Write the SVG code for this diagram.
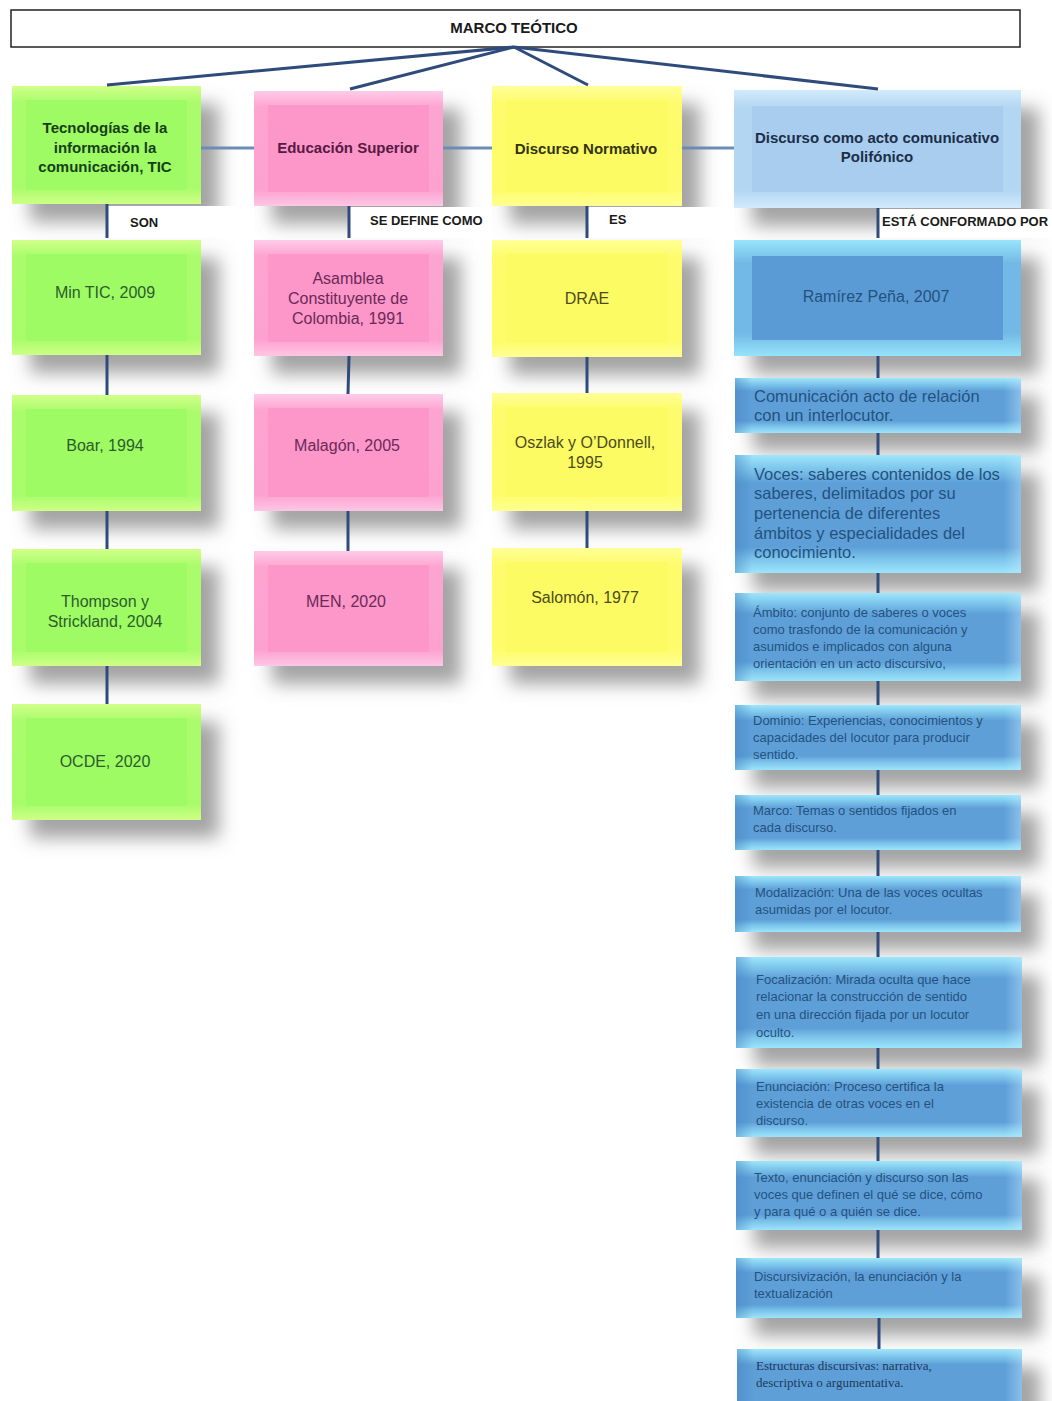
<svg xmlns="http://www.w3.org/2000/svg" width="1052" height="1401" viewBox="0 0 1052 1401">
<style>
text{font-family:"Liberation Sans",Arial,sans-serif}
.hd{font-weight:bold;font-size:15px;text-anchor:middle}
.bt{font-size:16px;text-anchor:middle}
.md{font-size:16.5px}
.sm{font-size:13px}
.sf{font-family:"Liberation Serif","Times New Roman",serif;font-size:13px}
.lb{font-weight:bold;font-size:13px;fill:#1a1a1a}
.sh{filter:url(#ds)}
.bb{fill:url(#gB2)}
.tg{fill:#2b5d2b}.thg{fill:#173f17}
.tp{fill:#6a2a58}.thp{fill:#561a44}
.ty{fill:#4c4c18}.thy{fill:#333310}
.tb{fill:#24527e}.thb{fill:#1c2d48}
.ln{stroke:#2f4b7c;stroke-width:3;fill:none}
.hl{stroke:#6b8db3;stroke-width:3;fill:none}
</style>
<defs>
<filter id="ds" x="-20%" y="-40%" width="160%" height="220%">
<feGaussianBlur in="SourceAlpha" stdDeviation="9"/>
<feOffset dx="18" dy="18" result="b"/>
<feFlood flood-color="#666" flood-opacity="0.6"/>
<feComposite in2="b" operator="in"/>
<feMerge><feMergeNode/><feMergeNode in="SourceGraphic"/></feMerge>
</filter>
<linearGradient id="gG" x1="0" y1="0" x2="0" y2="1"><stop offset="0" stop-color="#d2ff8a"/><stop offset="0.14" stop-color="#aafc6c"/><stop offset="0.86" stop-color="#a8fc6a"/><stop offset="1" stop-color="#ceff86"/></linearGradient>
<linearGradient id="gP" x1="0" y1="0" x2="0" y2="1"><stop offset="0" stop-color="#ffcbe8"/><stop offset="0.14" stop-color="#fda4d1"/><stop offset="0.86" stop-color="#fda2d0"/><stop offset="1" stop-color="#ffc6e5"/></linearGradient>
<linearGradient id="gY" x1="0" y1="0" x2="0" y2="1"><stop offset="0" stop-color="#ffff98"/><stop offset="0.14" stop-color="#fefc6c"/><stop offset="0.86" stop-color="#fefc6a"/><stop offset="1" stop-color="#ffff92"/></linearGradient>
<linearGradient id="gBH" x1="0" y1="0" x2="0" y2="1"><stop offset="0" stop-color="#d2eafc"/><stop offset="0.15" stop-color="#b3d7f3"/><stop offset="0.85" stop-color="#b3d7f3"/><stop offset="1" stop-color="#d2eafc"/></linearGradient>
<linearGradient id="gB" x1="0" y1="0" x2="0" y2="1"><stop offset="0" stop-color="#98e5fb"/><stop offset="0.2" stop-color="#72b9e6"/><stop offset="0.8" stop-color="#72b9e6"/><stop offset="1" stop-color="#96e3fb"/></linearGradient>
<linearGradient id="gB2" x1="0" y1="0" x2="0" y2="1"><stop offset="0" stop-color="#9de7fb"/><stop offset="0.12" stop-color="#7cc4eb"/><stop offset="0.24" stop-color="#5e9fd8"/><stop offset="0.78" stop-color="#5e9fd8"/><stop offset="0.88" stop-color="#7cc4eb"/><stop offset="1" stop-color="#9be5fb"/></linearGradient>
<linearGradient id="gSide" x1="0" y1="0" x2="1" y2="0"><stop offset="0" stop-color="#3f7fbf" stop-opacity="0.45"/><stop offset="0.06" stop-color="#3f7fbf" stop-opacity="0"/><stop offset="0.94" stop-color="#bfe8ff" stop-opacity="0"/><stop offset="1" stop-color="#bfe8ff" stop-opacity="0.45"/></linearGradient>
</defs>
<rect width="1052" height="1401" fill="#ffffff"/>

<g id="title">
<rect x="11" y="10" width="1009" height="37" fill="#ffffff" stroke="#222" stroke-width="1.5"/>
<text x="514" y="33" class="hd" style="fill:#1a1a1a">MARCO TEÓTICO</text>
</g>

<!-- Green column -->
<g id="n-tic">
<rect class="sh" x="12" y="86" width="189" height="118" fill="url(#gG)"/>
<rect x="26" y="100" width="161" height="90" fill="#9efb64"/>
<text class="hd thg" x="105" y="133">Tecnologías de la</text>
<text class="hd thg" x="105" y="153">información la</text>
<text class="hd thg" x="105" y="172">comunicación, TIC</text>
</g>
<g id="n-mintic">
<rect class="sh" x="12" y="240" width="189" height="115" fill="url(#gG)"/>
<rect x="26" y="254" width="161" height="87" fill="#9efb64"/>
<text class="bt tg" x="105" y="298">Min TIC, 2009</text>
</g>
<g id="n-boar">
<rect class="sh" x="12" y="395" width="189" height="116" fill="url(#gG)"/>
<rect x="26" y="409" width="161" height="88" fill="#9efb64"/>
<text class="bt tg" x="105" y="451">Boar, 1994</text>
</g>
<g id="n-thompson">
<rect class="sh" x="12" y="549" width="189" height="117" fill="url(#gG)"/>
<rect x="26" y="563" width="161" height="89" fill="#9efb64"/>
<text class="bt tg" x="105" y="607">Thompson y</text>
<text class="bt tg" x="105" y="627">Strickland, 2004</text>
</g>
<g id="n-ocde">
<rect class="sh" x="12" y="704" width="189" height="116" fill="url(#gG)"/>
<rect x="26" y="718" width="161" height="88" fill="#9efb64"/>
<text class="bt tg" x="105" y="767">OCDE, 2020</text>
</g>

<!-- Pink column -->
<g id="n-edu">
<rect class="sh" x="254" y="91" width="189" height="115" fill="url(#gP)"/>
<rect x="268" y="105" width="161" height="87" fill="#fd96c9"/>
<text class="hd thp" x="348" y="153">Educación Superior</text>
</g>
<g id="n-asamblea">
<rect class="sh" x="254" y="240" width="189" height="116" fill="url(#gP)"/>
<rect x="268" y="254" width="161" height="88" fill="#fd96c9"/>
<text class="bt tp" x="348" y="284">Asamblea</text>
<text class="bt tp" x="348" y="304">Constituyente de</text>
<text class="bt tp" x="348" y="324">Colombia, 1991</text>
</g>
<g id="n-malagon">
<rect class="sh" x="254" y="394" width="189" height="117" fill="url(#gP)"/>
<rect x="268" y="408" width="161" height="89" fill="#fd96c9"/>
<text class="bt tp" x="347" y="451">Malagón, 2005</text>
</g>
<g id="n-men">
<rect class="sh" x="254" y="551" width="189" height="115" fill="url(#gP)"/>
<rect x="268" y="565" width="161" height="87" fill="#fd96c9"/>
<text class="bt tp" x="346" y="607">MEN, 2020</text>
</g>

<!-- Yellow column -->
<g id="n-normativo">
<rect class="sh" x="492" y="86" width="190" height="120" fill="url(#gY)"/>
<rect x="506" y="100" width="162" height="92" fill="#fdfb64"/>
<text class="hd thy" x="586" y="154">Discurso Normativo</text>
</g>
<g id="n-drae">
<rect class="sh" x="492" y="240" width="190" height="117" fill="url(#gY)"/>
<rect x="506" y="254" width="162" height="89" fill="#fdfb64"/>
<text class="bt ty" x="587" y="304">DRAE</text>
</g>
<g id="n-oszlak">
<rect class="sh" x="492" y="393" width="190" height="118" fill="url(#gY)"/>
<rect x="506" y="407" width="162" height="90" fill="#fdfb64"/>
<text class="bt ty" x="585" y="448">Oszlak y O’Donnell,</text>
<text class="bt ty" x="585" y="468">1995</text>
</g>
<g id="n-salomon">
<rect class="sh" x="492" y="548" width="190" height="118" fill="url(#gY)"/>
<rect x="506" y="562" width="162" height="90" fill="#fdfb64"/>
<text class="bt ty" x="585" y="603">Salomón, 1977</text>
</g>

<!-- Blue column -->
<g id="n-polifonico">
<rect class="sh" x="734" y="90" width="287" height="118" fill="url(#gBH)"/>
<rect x="752" y="106" width="251" height="86" fill="#a9cdef"/>
<text class="hd thb" x="877" y="143">Discurso como acto comunicativo</text>
<text class="hd thb" x="877" y="162">Polifónico</text>
</g>
<g id="n-ramirez">
<rect class="sh" x="734" y="240" width="287" height="116" fill="url(#gB)"/>
<rect x="752" y="256" width="251" height="84" fill="#5b9bd5"/>
<text class="bt tb" x="876" y="302">Ramírez Peña, 2007</text>
</g>
<g id="n-comunicacion">
<rect class="sh bb" x="735" y="378" width="286" height="55"/>
<rect x="735" y="378" width="286" height="55" fill="url(#gSide)"/>
<text class="md tb" x="754" y="402">Comunicación acto de relación</text>
<text class="md tb" x="754" y="421">con un interlocutor.</text>
</g>
<g id="n-voces">
<rect class="sh bb" x="735" y="455" width="286" height="118"/>
<rect x="735" y="455" width="286" height="118" fill="url(#gSide)"/>
<text class="md tb" x="754" y="480">Voces: saberes contenidos de los</text>
<text class="md tb" x="754" y="499">saberes, delimitados por su</text>
<text class="md tb" x="754" y="519">pertenencia de diferentes</text>
<text class="md tb" x="754" y="539">ámbitos y especialidades del</text>
<text class="md tb" x="754" y="558">conocimiento.</text>
</g>
<g id="n-ambito">
<rect class="sh bb" x="735" y="593" width="286" height="88"/>
<rect x="735" y="593" width="286" height="88" fill="url(#gSide)"/>
<text class="sm tb" x="753" y="617">Ámbito: conjunto de saberes o voces</text>
<text class="sm tb" x="753" y="634">como trasfondo de la comunicación y</text>
<text class="sm tb" x="753" y="651">asumidos e implicados con alguna</text>
<text class="sm tb" x="753" y="668">orientación en un acto discursivo,</text>
</g>
<g id="n-dominio">
<rect class="sh bb" x="735" y="705" width="286" height="65"/>
<rect x="735" y="705" width="286" height="65" fill="url(#gSide)"/>
<text class="sm tb" x="753" y="725">Dominio: Experiencias, conocimientos y</text>
<text class="sm tb" x="753" y="742">capacidades del locutor para producir</text>
<text class="sm tb" x="753" y="759">sentido.</text>
</g>
<g id="n-marco">
<rect class="sh bb" x="735" y="795" width="286" height="55"/>
<rect x="735" y="795" width="286" height="55" fill="url(#gSide)"/>
<text class="sm tb" x="753" y="815">Marco: Temas o sentidos fijados en</text>
<text class="sm tb" x="753" y="832">cada discurso.</text>
</g>
<g id="n-modalizacion">
<rect class="sh bb" x="735" y="876" width="286" height="56"/>
<rect x="735" y="876" width="286" height="56" fill="url(#gSide)"/>
<text class="sm tb" x="755" y="897">Modalización: Una de las voces ocultas</text>
<text class="sm tb" x="755" y="914">asumidas por el locutor.</text>
</g>
<g id="n-focalizacion">
<rect class="sh bb" x="736" y="957" width="286" height="91"/>
<rect x="736" y="957" width="286" height="91" fill="url(#gSide)"/>
<text class="sm tb" x="756" y="984">Focalización: Mirada oculta que hace</text>
<text class="sm tb" x="756" y="1001">relacionar la construcción de sentido</text>
<text class="sm tb" x="756" y="1019">en una dirección fijada por un locutor</text>
<text class="sm tb" x="756" y="1037">oculto.</text>
</g>
<g id="n-enunciacion">
<rect class="sh bb" x="736" y="1069" width="286" height="68"/>
<rect x="736" y="1069" width="286" height="68" fill="url(#gSide)"/>
<text class="sm tb" x="756" y="1091">Enunciación: Proceso certifica la</text>
<text class="sm tb" x="756" y="1108">existencia de otras voces en el</text>
<text class="sm tb" x="756" y="1125">discurso.</text>
</g>
<g id="n-texto">
<rect class="sh bb" x="736" y="1161" width="286" height="69"/>
<rect x="736" y="1161" width="286" height="69" fill="url(#gSide)"/>
<text class="sm tb" x="754" y="1182">Texto, enunciación y discurso son las</text>
<text class="sm tb" x="754" y="1199">voces que definen el qué se dice, cómo</text>
<text class="sm tb" x="754" y="1216">y para qué o a quién se dice.</text>
</g>
<g id="n-discursivizacion">
<rect class="sh bb" x="736" y="1258" width="286" height="60"/>
<rect x="736" y="1258" width="286" height="60" fill="url(#gSide)"/>
<text class="sm tb" x="754" y="1281">Discursivización, la enunciación y la</text>
<text class="sm tb" x="754" y="1298">textualización</text>
</g>
<g id="n-estructuras">
<rect class="sh bb" x="737" y="1349" width="285" height="66"/>
<rect x="737" y="1349" width="285" height="66" fill="url(#gSide)"/>
<text class="sf" x="756" y="1370" fill="#1b3a5c">Estructuras discursivas: narrativa,</text>
<text class="sf" x="756" y="1387" fill="#1b3a5c">descriptiva o argumentativa.</text>
</g>

<!-- Relation labels -->
<g id="labels">
<rect x="107" y="206" width="147" height="32" fill="#ffffff"/>
<rect x="349" y="207" width="143" height="31" fill="#ffffff"/>
<rect x="587" y="207" width="147" height="31" fill="#ffffff"/>
<rect x="878" y="209" width="174" height="29" fill="#ffffff"/>
<text class="lb" x="130" y="227">SON</text>
<text class="lb" x="370" y="225">SE DEFINE COMO</text>
<text class="lb" x="609" y="224">ES</text>
<text class="lb" x="882" y="226">ESTÁ CONFORMADO POR</text>
</g>

<g id="connectors">
<line class="ln" x1="514" y1="47" x2="107" y2="85"/>
<line class="ln" x1="514" y1="47" x2="350" y2="89"/>
<line class="ln" x1="514" y1="47" x2="588" y2="85"/>
<line class="ln" x1="514" y1="47" x2="878" y2="89"/>
<line class="hl" x1="201" y1="148" x2="254" y2="148"/>
<line class="hl" x1="443" y1="148" x2="492" y2="148"/>
<line class="hl" x1="682" y1="148" x2="734" y2="148"/>
<line class="ln" x1="107" y1="204" x2="107" y2="238"/>
<line class="ln" x1="349" y1="206" x2="349" y2="238"/>
<line class="ln" x1="587" y1="206" x2="587" y2="238"/>
<line class="ln" x1="878" y1="208" x2="878" y2="238"/>
<line class="ln" x1="107" y1="355" x2="107" y2="395"/>
<line class="ln" x1="107" y1="511" x2="107" y2="549"/>
<line class="ln" x1="107" y1="666" x2="107" y2="704"/>
<line class="ln" x1="349" y1="356" x2="348" y2="394"/>
<line class="ln" x1="348" y1="511" x2="348" y2="551"/>
<line class="ln" x1="587" y1="357" x2="587" y2="393"/>
<line class="ln" x1="587" y1="511" x2="587" y2="548"/>
<line class="ln" x1="878" y1="356" x2="878" y2="378"/>
<line class="ln" x1="878" y1="433" x2="878" y2="455"/>
<line class="ln" x1="878" y1="573" x2="878" y2="593"/>
<line class="ln" x1="878" y1="681" x2="878" y2="705"/>
<line class="ln" x1="878" y1="770" x2="878" y2="795"/>
<line class="ln" x1="878" y1="850" x2="878" y2="876"/>
<line class="ln" x1="878" y1="932" x2="878" y2="957"/>
<line class="ln" x1="878" y1="1048" x2="878" y2="1069"/>
<line class="ln" x1="878" y1="1137" x2="878" y2="1161"/>
<line class="ln" x1="878" y1="1230" x2="878" y2="1258"/>
<line class="ln" x1="879" y1="1318" x2="879" y2="1349"/>
</g>
</svg>
